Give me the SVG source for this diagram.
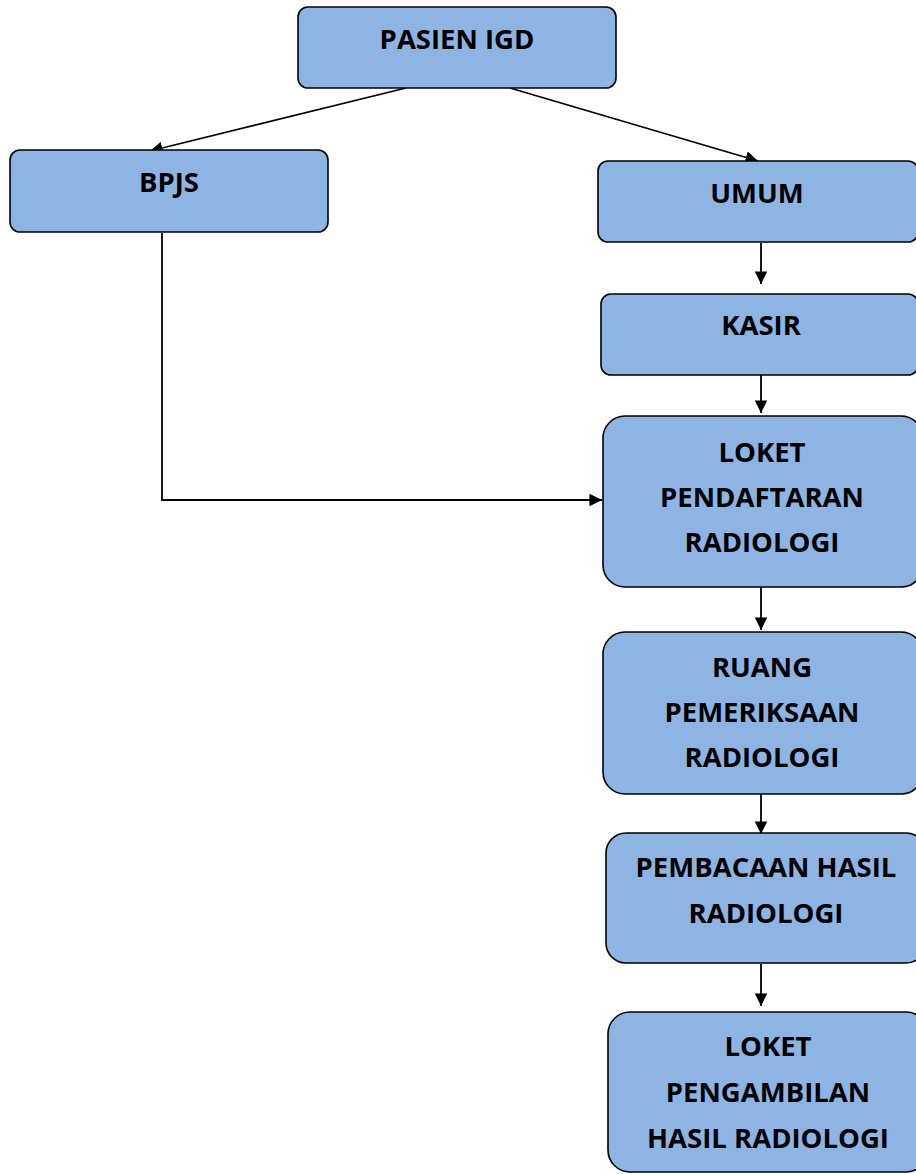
<svg xmlns="http://www.w3.org/2000/svg" width="916" height="1174" viewBox="0 0 916 1174">
<style>
.box{fill:#8EB4E3;stroke:#000;stroke-width:1.6}
.t{font-family:"Open Sans","Liberation Sans",sans-serif;font-weight:bold;font-size:27.5px;fill:#000;text-anchor:middle}
.c{fill:none;stroke:#000;stroke-width:1.8}
</style>
<defs>
<marker id="ah" viewBox="0 0 10 10" refX="10" refY="5" markerWidth="7" markerHeight="7" markerUnits="strokeWidth" orient="auto">
<path d="M0,0 L10,5 L0,10 z" fill="#000"/>
</marker>
</defs>
<g id="connectors">
<line class="c" x1="406" y1="88" x2="150" y2="151" marker-end="url(#ah)"/>
<line class="c" x1="510" y1="88" x2="758" y2="161" marker-end="url(#ah)"/>
<line class="c" x1="761" y1="243" x2="761" y2="284" marker-end="url(#ah)"/>
<line class="c" x1="761" y1="370" x2="761" y2="413" marker-end="url(#ah)"/>
<polyline class="c" points="162,233 162,500 602,500" marker-end="url(#ah)"/>
<line class="c" x1="761" y1="587" x2="761" y2="630" marker-end="url(#ah)"/>
<line class="c" x1="761" y1="794" x2="761" y2="834" marker-end="url(#ah)"/>
<line class="c" x1="761" y1="964" x2="761" y2="1006" marker-end="url(#ah)"/>
</g>
<g id="pasien-igd">
<rect class="box" x="298" y="7" width="318" height="81" rx="10"/>
<text class="t" x="457" y="49">PASIEN IGD</text>
</g>
<g id="bpjs">
<rect class="box" x="10" y="150" width="318" height="82" rx="10"/>
<text class="t" x="169" y="192">BPJS</text>
</g>
<g id="umum">
<rect class="box" x="598" y="161" width="320" height="81" rx="10"/>
<text class="t" x="757" y="203">UMUM</text>
</g>
<g id="kasir">
<rect class="box" x="601" y="294" width="317" height="81" rx="10"/>
<text class="t" x="761" y="335">KASIR</text>
</g>
<g id="loket-pendaftaran">
<rect class="box" x="603" y="416" width="320" height="171" rx="22"/>
<text class="t" x="762" y="462">LOKET</text>
<text class="t" x="762" y="507">PENDAFTARAN</text>
<text class="t" x="762" y="552">RADIOLOGI</text>
</g>
<g id="ruang-pemeriksaan">
<rect class="box" x="603" y="632" width="320" height="162" rx="22"/>
<text class="t" x="762" y="677">RUANG</text>
<text class="t" x="762" y="722">PEMERIKSAAN</text>
<text class="t" x="762" y="767">RADIOLOGI</text>
</g>
<g id="pembacaan-hasil">
<rect class="box" x="606" y="833" width="320" height="130" rx="20"/>
<text class="t" x="766" y="877">PEMBACAAN HASIL</text>
<text class="t" x="766" y="923">RADIOLOGI</text>
</g>
<g id="loket-pengambilan">
<rect class="box" x="608" y="1012" width="320" height="160" rx="22"/>
<text class="t" x="768" y="1056">LOKET</text>
<text class="t" x="768" y="1102">PENGAMBILAN</text>
<text class="t" x="768" y="1148">HASIL RADIOLOGI</text>
</g>
</svg>
